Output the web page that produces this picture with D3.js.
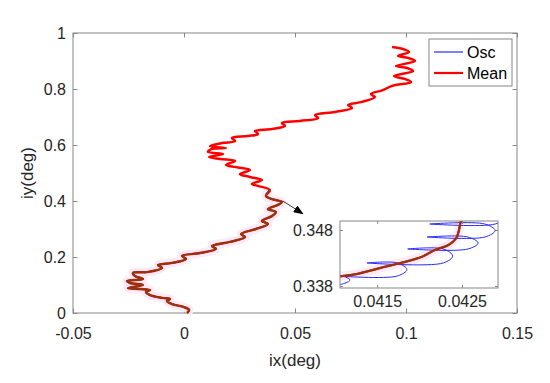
<!DOCTYPE html>
<html lang="en">
<head>
<meta charset="UTF-8">
<title>Osc / Mean</title>
<script src="https://cdn.jsdelivr.net/npm/d3@7"></script>
<style>
    body { margin: 0; background: #fff; }
    svg { font-family: "Liberation Sans", Arial, sans-serif; }
    .axis line { stroke: #868686; }
    .axis path { display: none; }
    .axis text { fill: #262626; font-size: 16px; }
</style>
</head>
<body>
<svg id="chart" width="550" height="383"></svg>
<script>
// mean trajectory (deg), from the start at the bottom to the top end
const meanX = [
    0.0014, 0.0023, 0.0000, -0.0054, -0.0077, -0.0063, -0.0099, -0.0153, -0.0171, -0.0153,
    -0.0198, -0.0252, -0.0185, -0.0243, -0.0257, -0.0185, -0.0221, -0.0230, -0.0167, -0.0099,
    -0.0117, -0.0054, 0.0009, -0.0009, 0.0072, 0.0144, 0.0126, 0.0207, 0.0275, 0.0257,
    0.0324, 0.0378, 0.0351, 0.0396, 0.0414, 0.0378, 0.0423, 0.0441, 0.0396, 0.0369,
    0.0387, 0.0333, 0.0306, 0.0351, 0.0297, 0.0252, 0.0297, 0.0234, 0.0189, 0.0230,
    0.0162, 0.0113, 0.0176, 0.0108, 0.0126, 0.0189, 0.0117, 0.0171, 0.0230, 0.0216,
    0.0288, 0.0333, 0.0320, 0.0396, 0.0455, 0.0441, 0.0523, 0.0604, 0.0590, 0.0680,
    0.0757, 0.0739, 0.0802, 0.0860, 0.0842, 0.0896, 0.0937, 0.1023, 0.0995, 0.0946,
    0.1032, 0.1005, 0.0955, 0.1041, 0.1009, 0.0964, 0.1014, 0.0986, 0.0937
];
const meanY = [
    0.000, 0.011, 0.021, 0.032, 0.043, 0.050, 0.054, 0.064, 0.075, 0.082,
    0.086, 0.089, 0.100, 0.107, 0.114, 0.121, 0.132, 0.143, 0.146, 0.161,
    0.171, 0.179, 0.193, 0.204, 0.214, 0.229, 0.239, 0.254, 0.271, 0.282,
    0.300, 0.318, 0.329, 0.346, 0.361, 0.371, 0.386, 0.396, 0.407, 0.418,
    0.439, 0.454, 0.461, 0.475, 0.486, 0.496, 0.511, 0.521, 0.529, 0.543,
    0.550, 0.557, 0.568, 0.575, 0.586, 0.589, 0.596, 0.607, 0.614, 0.625,
    0.632, 0.639, 0.650, 0.657, 0.668, 0.679, 0.686, 0.696, 0.707, 0.718,
    0.732, 0.743, 0.754, 0.771, 0.782, 0.796, 0.811, 0.825, 0.836, 0.846,
    0.864, 0.875, 0.882, 0.900, 0.911, 0.918, 0.932, 0.943, 0.950
];
// the first points of the mean are drawn brown on top of the red
const brownCount = 40;

// zoomed window
const insetMeanX = [0.04101, 0.04124, 0.04152, 0.04179, 0.04203, 0.04218, 0.04234, 0.04243, 0.04246, 0.04248, 0.04250];
const insetMeanY = [0.33967, 0.34009, 0.34116, 0.34216, 0.34323, 0.34443, 0.34532, 0.34652, 0.34770, 0.34920, 0.35038];
const oscX = [
    0.04089, 0.04109, 0.04118, 0.04109, 0.04103, 0.04174, 0.04185, 0.04174, 0.04138, 0.04228,
    0.04239, 0.04228, 0.04186, 0.04257, 0.04269, 0.04257, 0.04209, 0.04277, 0.04289, 0.04277,
    0.04212, 0.04289, 0.04301, 0.04289, 0.04218
];
const oscY = [
    0.33836, 0.33836, 0.33907, 0.33979, 0.33979, 0.33979, 0.34095, 0.34211, 0.34211, 0.34211,
    0.34336, 0.34461, 0.34461, 0.34461, 0.34568, 0.34675, 0.34675, 0.34675, 0.34791, 0.34907,
    0.34907, 0.34907, 0.35023, 0.35139, 0.35139
];

const xTicks = [-0.05, 0, 0.05, 0.1, 0.15];
const yTicks = [0, 0.2, 0.4, 0.6, 0.8, 1];
const insetXTicks = [0.0415, 0.0425];
const insetYTicks = [0.338, 0.348];
const legendLabels = ['Osc', 'Mean'];
const arrowFrom = [0.0445, 0.400];
const arrowTo = [0.0535, 0.355];

const svg = d3.select('#chart');
const box = { left: 73, right: 517, top: 33, bottom: 313 };
const ins = { left: 340, right: 498, top: 221, bottom: 288 };
const tick = 4.5;
const frameColor = '#868686';

const x = d3.scaleLinear().domain([-0.05, 0.15]).range([box.left, box.right]);
const y = d3.scaleLinear().domain([0, 1]).range([box.bottom, box.top]);

const fmt = d => String(+d.toFixed(4));

// axes, ticks inside on all four sides
svg.append('g').attr('class', 'axis')
    .attr('transform', `translate(0,${box.bottom})`)
    .call(d3.axisBottom(x).tickValues(xTicks).tickFormat(fmt).tickSizeInner(-tick).tickSizeOuter(0).tickPadding(15));
svg.append('g').attr('class', 'axis')
    .attr('transform', `translate(0,${box.top})`)
    .call(d3.axisTop(x).tickValues(xTicks).tickFormat('').tickSizeInner(-tick).tickSizeOuter(0));
svg.append('g').attr('class', 'axis')
    .attr('transform', `translate(${box.left},0)`)
    .call(d3.axisLeft(y).tickValues(yTicks).tickFormat(fmt).tickSizeInner(-tick).tickSizeOuter(0).tickPadding(7));
svg.append('g').attr('class', 'axis')
    .attr('transform', `translate(${box.right},0)`)
    .call(d3.axisRight(y).tickValues(yTicks).tickFormat('').tickSizeInner(-tick).tickSizeOuter(0));

svg.append('rect')
    .attr('x', box.left).attr('y', box.top)
    .attr('width', box.right - box.left).attr('height', box.bottom - box.top)
    .attr('fill', 'none').attr('stroke', frameColor);

svg.append('text')
    .attr('x', (box.left + box.right) / 2).attr('y', 366)
    .attr('text-anchor', 'middle').attr('font-size', 17).attr('fill', '#262626')
    .text('ix(deg)');
svg.append('text')
    .attr('transform', `translate(33,${(box.top + box.bottom) / 2}) rotate(-90)`)
    .attr('text-anchor', 'middle').attr('font-size', 17).attr('fill', '#262626')
    .text('iy(deg)');

// mean trajectory
const meanPts = meanX.map((v, i) => [v, meanY[i]]);
const line = d3.line().x(d => x(d[0])).y(d => y(d[1])).curve(d3.curveCatmullRom.alpha(0.5));
const lowPts = meanPts.slice(0, brownCount + 1);

svg.append('path').attr('d', line(lowPts))
    .attr('fill', 'none').attr('stroke', '#fdeaf8').attr('stroke-width', 9).attr('stroke-linejoin', 'round');
svg.append('path').attr('d', line(meanPts))
    .attr('fill', 'none').attr('stroke', '#ff0000').attr('stroke-width', 2.5).attr('stroke-linejoin', 'round');
svg.append('path').attr('d', line(lowPts))
    .attr('fill', 'none').attr('stroke', '#8a3a10').attr('stroke-width', 2).attr('stroke-linejoin', 'round');

// arrow
svg.append('defs').append('marker')
    .attr('id', 'head').attr('markerUnits', 'userSpaceOnUse')
    .attr('markerWidth', 10).attr('markerHeight', 8)
    .attr('refX', 9).attr('refY', 4).attr('orient', 'auto')
    .append('path').attr('d', 'M0,0L10,4L0,8Z').attr('fill', '#000');
svg.append('line')
    .attr('x1', x(arrowFrom[0])).attr('y1', y(arrowFrom[1]))
    .attr('x2', x(arrowTo[0])).attr('y2', y(arrowTo[1]))
    .attr('stroke', '#000').attr('stroke-width', 0.8).attr('marker-end', 'url(#head)');

// legend
const leg = svg.append('g').attr('transform', 'translate(429,39)');
leg.append('rect').attr('width', 83).attr('height', 47)
    .attr('fill', '#fff').attr('stroke', frameColor);
const legColors = ['#0000ff', '#ff0000'];
const legWidths = [1, 2.2];
legendLabels.forEach((lab, i) => {
    const ly = 13 + i * 21;
    leg.append('line').attr('x1', 5).attr('x2', 34).attr('y1', ly).attr('y2', ly)
        .attr('stroke', legColors[i]).attr('stroke-width', legWidths[i]);
    leg.append('text').attr('x', 38).attr('y', ly + 6)
        .attr('font-size', 16).attr('fill', '#000').text(lab);
});

// inset
const ix = d3.scaleLinear().domain([0.041062, 0.042924]).range([ins.left, ins.right]);
const iy = d3.scaleLinear().domain([0.33764, 0.34961]).range([ins.bottom, ins.top]);

svg.append('rect')
    .attr('x', ins.left).attr('y', ins.top)
    .attr('width', ins.right - ins.left).attr('height', ins.bottom - ins.top)
    .attr('fill', '#fff');
svg.append('clipPath').attr('id', 'insClip').append('rect')
    .attr('x', ins.left).attr('y', ins.top)
    .attr('width', ins.right - ins.left).attr('height', ins.bottom - ins.top);

const iLine = d3.line().x(d => ix(d[0])).y(d => iy(d[1])).curve(d3.curveCatmullRom.alpha(0.5));
const ig = svg.append('g').attr('clip-path', 'url(#insClip)');
const insetMeanPts = insetMeanX.map((v, i) => [v, insetMeanY[i]]);
ig.append('path').attr('d', iLine(insetMeanPts))
    .attr('fill', 'none').attr('stroke', '#fdeaf8').attr('stroke-width', 9);
ig.append('path').attr('d', iLine(oscX.map((v, i) => [v, oscY[i]])))
    .attr('fill', 'none').attr('stroke', '#2a2aff').attr('stroke-width', 1);
ig.append('path').attr('d', iLine(insetMeanPts))
    .attr('fill', 'none').attr('stroke', '#ff0000').attr('stroke-width', 2.3);
ig.append('path').attr('d', iLine(insetMeanPts))
    .attr('fill', 'none').attr('stroke', '#8a3a10').attr('stroke-width', 1.9);

const itick = 3;
svg.append('g').attr('class', 'axis')
    .attr('transform', `translate(0,${ins.bottom})`)
    .call(d3.axisBottom(ix).tickValues(insetXTicks).tickFormat(fmt).tickSizeInner(-itick).tickSizeOuter(0).tickPadding(8));
svg.append('g').attr('class', 'axis')
    .attr('transform', `translate(0,${ins.top})`)
    .call(d3.axisTop(ix).tickValues(insetXTicks).tickFormat('').tickSizeInner(-itick).tickSizeOuter(0));
svg.append('g').attr('class', 'axis')
    .attr('transform', `translate(${ins.left},0)`)
    .call(d3.axisLeft(iy).tickValues(insetYTicks).tickFormat(fmt).tickSizeInner(-itick).tickSizeOuter(0).tickPadding(7));
svg.append('g').attr('class', 'axis')
    .attr('transform', `translate(${ins.right},0)`)
    .call(d3.axisRight(iy).tickValues(insetYTicks).tickFormat('').tickSizeInner(-itick).tickSizeOuter(0));
svg.append('rect')
    .attr('x', ins.left).attr('y', ins.top)
    .attr('width', ins.right - ins.left).attr('height', ins.bottom - ins.top)
    .attr('fill', 'none').attr('stroke', frameColor);
</script>
</body>
</html>
